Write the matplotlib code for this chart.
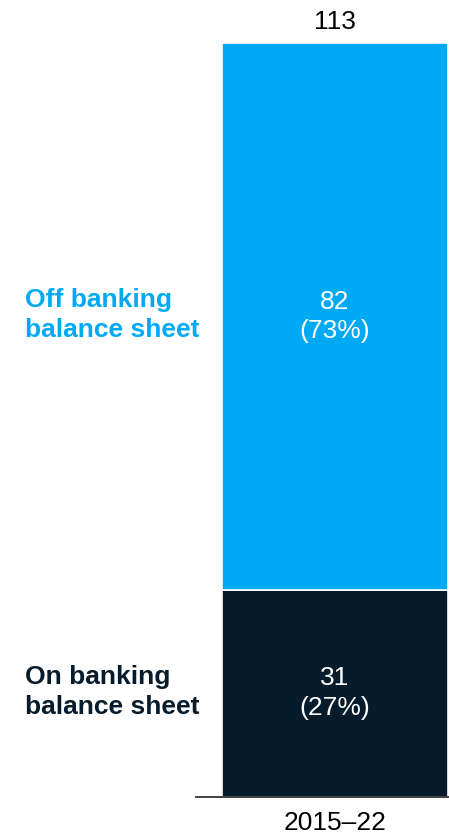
import matplotlib
matplotlib.use("Agg")
import matplotlib.pyplot as plt

plt.rcParams['font.family'] = ['Liberation Sans', 'DejaVu Sans']

category = "2015–22"
segments = ["On banking\nbalance sheet", "Off banking\nbalance sheet"]
values = [31, 82]
shares = ["27%", "73%"]
colors = ["#061C2C", "#00A9F4"]
total = sum(values)

W, H = 449, 836
fig = plt.figure(figsize=(W / 100, H / 100), dpi=100)
ax_left, ax_right = 196 / W, 449 / W
ax_bottom, ax_top = (H - 796.5) / H, (H - 43) / H
ax = fig.add_axes([ax_left, ax_bottom, ax_right - ax_left, ax_top - ax_bottom])

fs = 19
bottom = 0
for seg, v, sh, c in zip(segments, values, shares, colors):
    ax.bar(0, v, width=1.0, bottom=bottom, color=c, edgecolor="white", linewidth=1.2)
    ax.text(0, bottom + v / 2, f"{v}\n({sh})", ha="center", va="center",
            color="white", fontsize=fs, linespacing=1.3)
    ax.text(-0.615 - 0.755, bottom + v / 2 + 0.2, seg, ha="left", va="center",
            color=c, fontsize=fs, fontweight="bold", linespacing=1.3,
            clip_on=False)
    bottom += v

ax.annotate(str(total), (0, total), xytext=(0, 6.5), textcoords="offset points",
            ha="center", va="bottom", fontsize=fs, color="black")

ax.set_xlim(-0.615, 0.505)
ax.set_ylim(0, total)
for s in ["top", "right", "left"]:
    ax.spines[s].set_visible(False)
ax.spines["bottom"].set_color("#333333")
ax.spines["bottom"].set_linewidth(1.3)
ax.set_yticks([])
ax.set_xticks([0])
ax.set_xticklabels([category], fontsize=fs)
ax.tick_params(axis="x", length=0, pad=10.5)

fig.savefig("out.png", dpi=100)
